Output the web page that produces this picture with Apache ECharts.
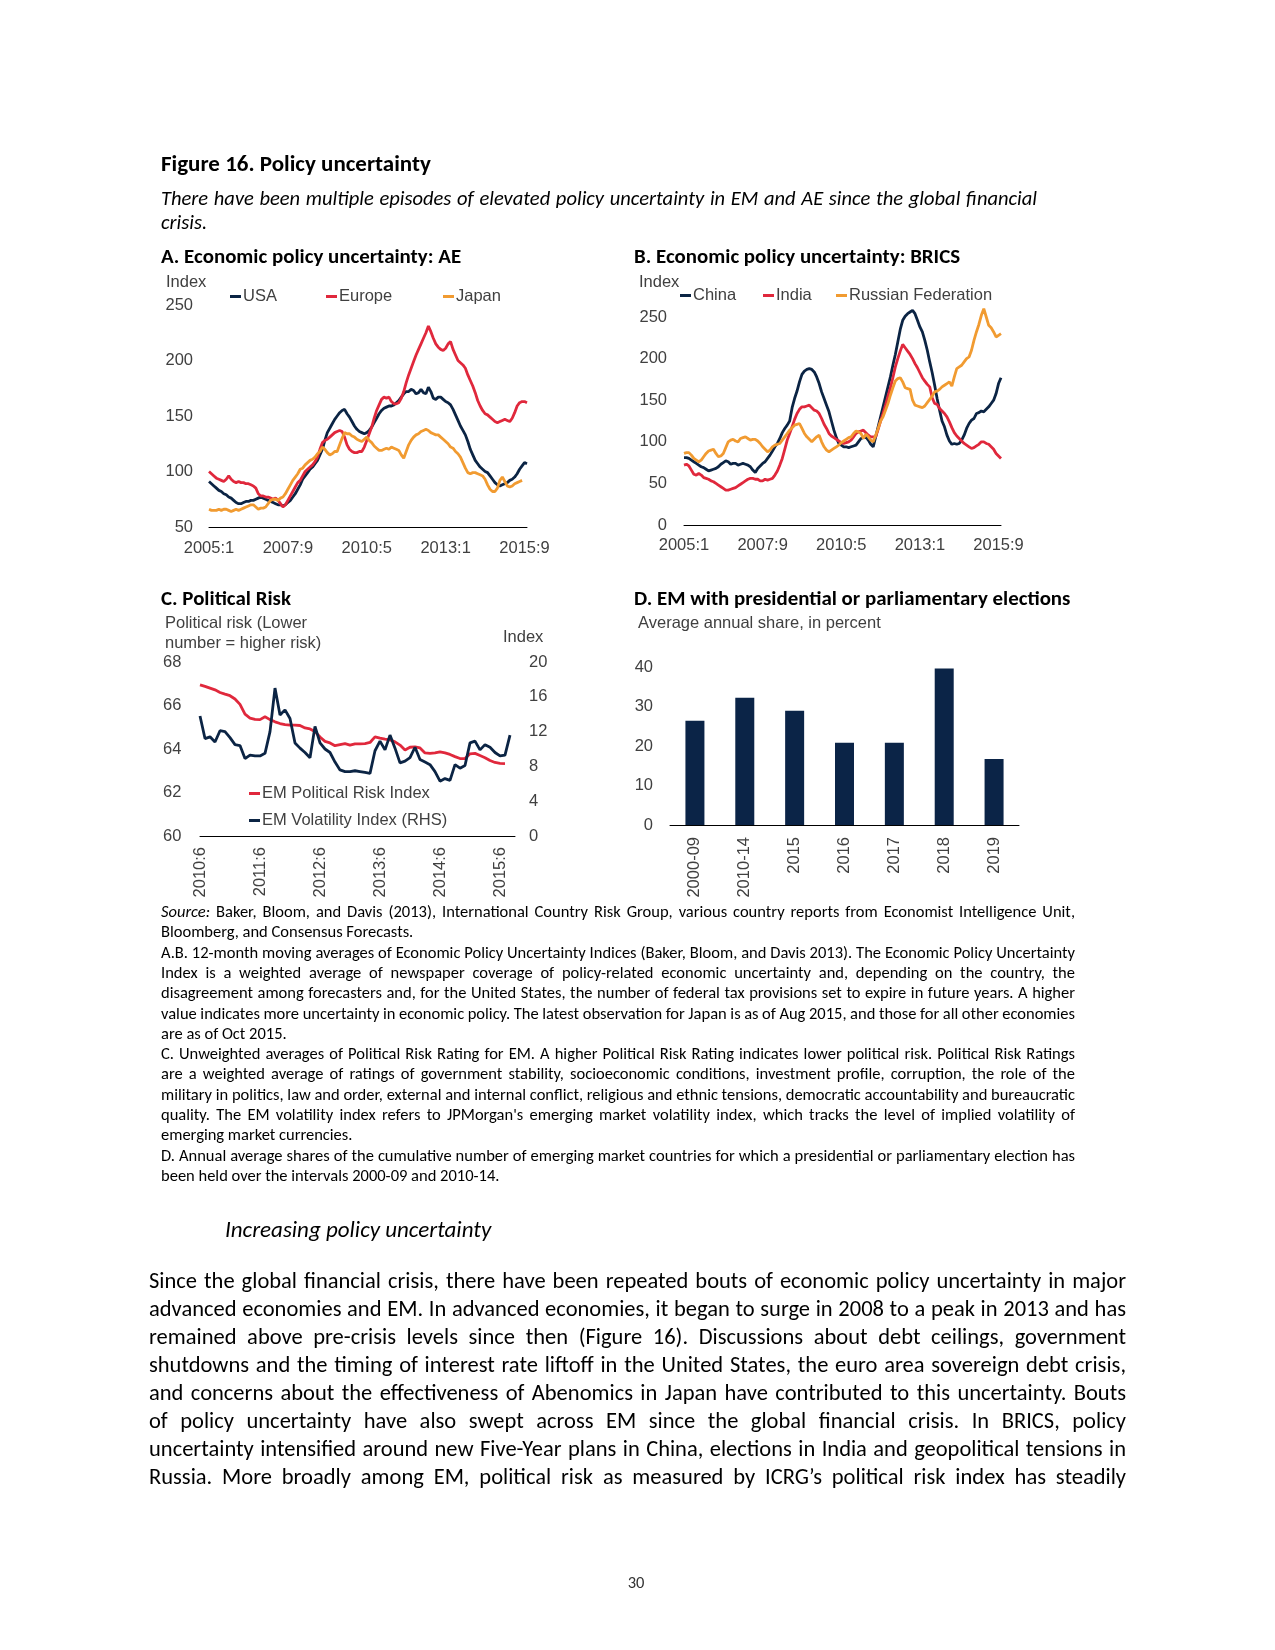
<!DOCTYPE html>
<html><head><meta charset="utf-8">
<script src="https://cdn.jsdelivr.net/npm/echarts@6/dist/echarts.min.js"></script>
<style>
html,body{margin:0;padding:0;background:#fff;}
#page{position:relative;width:1275px;height:1650px;overflow:hidden;background:#fff;}
#chart{position:absolute;left:0;top:0;width:1275px;height:1650px;}
.t{position:absolute;white-space:nowrap;color:#000;font-family:Carlito,"Liberation Sans Narrow","DejaVu Sans Condensed",sans-serif;z-index:2;}
</style></head>
<body><div id="page"><div id="chart"></div></div>
<script>
// ---------- DATA ----------
const aeSeriesNames = ['USA', 'Europe', 'Japan'];
const usa = [91,89,87,85,83,82,80,79,77,76, 74,72,71,71,72,73,73,74,74,75, 76,77,76,75,74,73,72,71,70,70,
 69,70,72,74,77,80,84,88,93,96, 99,102,104,107,110,115,120,128,135,139, 143,147,150,153,155,156,152,149,145,141,
 138,136,135,134,135,137,140,144,148,152, 155,157,158,159,159,160,162,164,167,170, 172,172,174,173,170,171,174,171,170,176,
 172,166,165,167,167,165,163,162,160,156, 151,146,141,137,133,127,120,115,110,107, 104,102,100,99,96,93,90,88,87,88,
 89,90,92,93,95,98,102,105,108,107];
const europe = [100,98,96,94,93,92,91,93,96,93, 91,90,91,90,90,89,89,88,87,85, 80,78,78,77,77,76,75,76,74,71,
 68,70,74,78,82,86,90,92,96,100, 102,104,106,109,113,120,126,128,129,131, 133,135,136,137,136,131,124,120,118,117,
 117,118,118,122,128,134,140,148,155,160, 165,167,166,167,163,161,161,162,166,172, 180,187,193,199,205,210,215,220,225,231,
 226,220,215,212,210,209,211,215,217,210, 205,200,198,196,193,187,182,177,171,164, 159,155,152,151,149,147,145,144,145,146,
 147,146,145,148,153,159,162,163,163,162];
const japan = [66,65,65,65,66,65,66,66,65,64, 65,66,65,66,67,68,69,70,70,68, 66,67,67,68,71,74,75,75,74,76,
 77,80,84,88,92,95,98,102,103,106, 108,110,111,113,116,118,122,120,117,115, 116,118,118,124,130,135,134,134,132,131,
 129,128,127,129,131,128,126,123,121,119, 119,120,121,120,122,121,120,119,115,112, 118,124,128,131,133,134,136,137,138,137,
 135,134,133,133,131,129,127,125,122,121, 118,116,113,108,103,99,98,99,99,98, 97,96,93,88,84,82,82,85,92,95,
 91,87,86,87,89,90,91,92];

const bricsSeriesNames = ['China', 'India', 'Russian Federation'];
const china = [81,81,80,78,76,74,72,70,69,67, 65,66,67,68,70,73,75,77,76,73, 74,74,72,73,74,73,72,70,66,63,
 68,71,74,76,80,84,89,94,98,104, 111,116,120,125,141,152,161,172,181,185, 187,188,187,184,178,170,160,152,144,136,
 125,114,105,98,96,94,94,93,94,95, 96,100,104,105,106,102,97,94,106,118, 130,142,154,166,178,192,205,220,235,246,
 251,254,256,258,254,246,238,232,222,210, 196,183,168,152,138,125,118,108,101,97, 98,97,98,102,108,116,122,126,128,134,
 135,137,136,139,142,146,150,158,170,177];
const india = [72,73,71,66,61,60,62,60,57,56, 55,53,52,50,48,46,44,42,42,43, 44,45,47,49,51,53,55,56,56,55,
 55,53,53,55,54,55,56,60,65,72, 80,91,102,110,118,127,134,139,142,142, 143,144,141,138,137,134,128,121,116,110,
 107,105,103,101,99,98,99,100,102,106, 110,112,113,114,111,108,106,106,106,115, 125,134,144,155,165,177,190,200,209,217,
 213,209,205,200,194,189,183,177,173,169, 166,153,146,145,140,137,134,130,124,117, 111,107,104,101,98,96,94,92,93,95,
 97,100,100,98,97,94,91,86,83,80];
const russia = [86,87,87,84,80,78,76,78,82,86, 89,90,91,86,82,83,86,93,100,102, 103,101,100,104,105,106,104,102,103,103,
 101,98,94,91,88,90,94,96,97,98, 102,106,110,114,117,120,121,122,116,110, 106,103,100,103,106,108,100,94,90,88,
 90,92,94,96,99,101,103,105,106,110, 113,112,110,104,109,106,102,100,108,116, 125,130,138,146,156,165,173,176,177,172,
 165,164,163,150,144,143,142,141,143,147, 151,155,160,161,163,166,168,170,172,167, 178,188,190,192,196,200,202,210,222,232,
 241,252,260,250,240,237,232,226,228,230];

const riskSeriesNames = ['EM Political Risk Index', 'EM Volatility Index (RHS)'];
const politicalRisk = [66.95,66.88,66.8,66.72,66.6,66.52,66.45,66.3,66.05,65.6, 65.42,65.36,65.35,65.48,65.35,65.25,65.17,65.12,65.1,65.1,
 65.08,64.97,64.92,64.8,64.55,64.35,64.28,64.15,64.2,64.25, 64.18,64.24,64.24,64.25,64.3,64.56,64.5,64.45,64.42,64.33,
 64.18,63.95,64.08,64.1,64.05,63.82,63.8,63.82,63.87,63.82, 63.75,63.65,63.56,63.56,63.78,63.8,63.7,63.6,63.47,63.38,
 63.34,63.33];
const volatility = [13.8,11.2,11.4,10.8,12.1,12.0,11.3,10.5,10.4,8.9, 9.3,9.2,9.2,9.5,12.0,17.0,13.9,14.5,13.5,10.7,
 10.1,9.6,9.0,12.6,10.7,10.0,9.6,8.5,7.6,7.4, 7.4,7.5,7.4,7.3,7.2,9.8,10.9,9.9,11.6,10.1,
 8.4,8.6,9.0,10.2,8.8,8.5,8.2,7.4,6.3,6.6, 6.4,8.2,7.8,8.1,10.7,10.9,9.9,10.5,10.2,9.6,
 9.2,9.3,11.6];

const electionCategories = ['2000-09', '2010-14', '2015', '2016', '2017', '2018', '2019'];
const electionShare = [26.4, 32.2, 28.9, 20.8, 20.8, 39.6, 16.7];

// tick/category labels (monthly, "year:month")
const monthsAB = [];
for (let y = 2005; y <= 2015; y++) for (let m = 1; m <= 12; m++) { if (y === 2015 && m > 10) break; monthsAB.push(y + ':' + m); }
const monthsC = [];
for (let y = 2010; y <= 2015; y++) for (let m = 1; m <= 12; m++) { if ((y === 2010 && m < 6) || (y === 2015 && m > 9)) continue; monthsC.push(y + ':' + m); }

// ---------- STYLE ----------
const NAVY = '#0b2444', RED = '#e0283c', ORANGE = '#f19b31', BAR = '#0b2447';
const TXT = '#404040', FS = 16.5, FF = '"Liberation Sans", Arial, sans-serif';

function lineSeries(name, data, xi, yi, color) {
  return { name, type: 'line', data, xAxisIndex: xi, yAxisIndex: yi, symbol: 'none', clip: false,
    lineStyle: { color, width: 2.8 }, itemStyle: { color } };
}
function legendAt(name, left, top) {
  return { data: [name], left, top, padding: 0, icon: 'rect', itemWidth: 11, itemHeight: 3, itemGap: 0,
    textStyle: { color: TXT, fontSize: FS, fontFamily: FF, padding: [0, 0, 0, -3] }, selectedMode: false };
}
const baseLabel = { color: TXT, fontSize: FS, fontFamily: FF };
const xLine = { show: true, lineStyle: { color: '#000', width: 1 } };

const chart = echarts.init(document.getElementById('chart'), null, { renderer: 'canvas' });
chart.setOption({
  animation: false,
  textStyle: { fontFamily: FF },
  grid: [
    { left: 209, top: 305, width: 318, height: 222 },
    { left: 684, top: 317, width: 317, height: 208 },
    { left: 200, top: 662, width: 315, height: 174 },
    { left: 670, top: 667, width: 349, height: 158 }
  ],
  xAxis: [
    { type: 'category', gridIndex: 0, data: monthsAB, boundaryGap: false, axisLine: xLine, axisTick: { show: false },
      axisLabel: Object.assign({ interval: 31, margin: 13 }, baseLabel) },
    { type: 'category', gridIndex: 1, data: monthsAB, boundaryGap: false, axisLine: xLine, axisTick: { show: false },
      axisLabel: Object.assign({ interval: 31, margin: 12 }, baseLabel) },
    { type: 'category', gridIndex: 2, data: monthsC, boundaryGap: false, axisLine: xLine, axisTick: { show: false },
      axisLabel: Object.assign({ interval: 11, margin: 11, rotate: 90 }, baseLabel) },
    { type: 'category', gridIndex: 3, data: electionCategories, boundaryGap: true, axisLine: xLine, axisTick: { show: false },
      axisLabel: Object.assign({ interval: 0, margin: 12, rotate: 90 }, baseLabel) }
  ],
  yAxis: [
    { type: 'value', gridIndex: 0, min: 50, max: 250, interval: 50, axisLine: { show: false }, axisTick: { show: false },
      splitLine: { show: false }, axisLabel: Object.assign({ margin: 16 }, baseLabel) },
    { type: 'value', gridIndex: 1, min: 0, max: 250, interval: 50, axisLine: { show: false }, axisTick: { show: false },
      splitLine: { show: false }, axisLabel: Object.assign({ margin: 17 }, baseLabel) },
    { type: 'value', gridIndex: 2, min: 60, max: 68, interval: 2, axisLine: { show: false }, axisTick: { show: false },
      splitLine: { show: false }, axisLabel: Object.assign({ margin: 37, align: 'left' }, baseLabel) },
    { type: 'value', gridIndex: 2, position: 'right', min: 0, max: 20, interval: 4, axisLine: { show: false }, axisTick: { show: false },
      splitLine: { show: false }, axisLabel: Object.assign({ margin: 14, align: 'left' }, baseLabel) },
    { type: 'value', gridIndex: 3, min: 0, max: 40, interval: 10, axisLine: { show: false }, axisTick: { show: false },
      splitLine: { show: false }, axisLabel: Object.assign({ margin: 17 }, baseLabel) }
  ],
  legend: [
    legendAt(aeSeriesNames[0], 230, 288), legendAt(aeSeriesNames[1], 326, 288), legendAt(aeSeriesNames[2], 443, 288),
    legendAt(bricsSeriesNames[0], 680, 287), legendAt(bricsSeriesNames[1], 763, 287), legendAt(bricsSeriesNames[2], 836, 287),
    legendAt(riskSeriesNames[0], 249, 785), legendAt(riskSeriesNames[1], 249, 812)
  ],
  graphic: [
    { type: 'text', x: 166, y: 282, style: { text: 'Index', fill: TXT, font: FS + 'px ' + FF, verticalAlign: 'middle' } },
    { type: 'text', x: 639, y: 282, style: { text: 'Index', fill: TXT, font: FS + 'px ' + FF, verticalAlign: 'middle' } },
    { type: 'text', x: 165, y: 623, style: { text: 'Political risk (Lower', fill: TXT, font: FS + 'px ' + FF, verticalAlign: 'middle' } },
    { type: 'text', x: 165, y: 643, style: { text: 'number = higher risk)', fill: TXT, font: FS + 'px ' + FF, verticalAlign: 'middle' } },
    { type: 'text', x: 503, y: 637, style: { text: 'Index', fill: TXT, font: FS + 'px ' + FF, verticalAlign: 'middle' } },
    { type: 'text', x: 638, y: 623, style: { text: 'Average annual share, in percent', fill: TXT, font: FS + 'px ' + FF, verticalAlign: 'middle' } }
  ],
  series: [
    lineSeries(aeSeriesNames[0], usa, 0, 0, NAVY),
    lineSeries(aeSeriesNames[1], europe, 0, 0, RED),
    lineSeries(aeSeriesNames[2], japan, 0, 0, ORANGE),
    lineSeries(bricsSeriesNames[0], china, 1, 1, NAVY),
    lineSeries(bricsSeriesNames[1], india, 1, 1, RED),
    lineSeries(bricsSeriesNames[2], russia, 1, 1, ORANGE),
    lineSeries(riskSeriesNames[0], politicalRisk, 2, 2, RED),
    lineSeries(riskSeriesNames[1], volatility, 2, 3, NAVY),
    { name: 'Share', type: 'bar', data: electionShare, xAxisIndex: 3, yAxisIndex: 4, barWidth: 19, itemStyle: { color: BAR } }
  ]
});

// ---------- PAGE TEXT ----------
const page = document.getElementById('page');
function addLine(html, o) {
  const d = document.createElement('div');
  d.className = 't';
  d.style.left = o.left + 'px';
  d.style.top = (o.cy - o.lh / 2) + 'px';
  d.style.lineHeight = o.lh + 'px';
  d.style.fontSize = o.size + 'px';
  if (o.weight) d.style.fontWeight = o.weight;
  if (o.italic) d.style.fontStyle = 'italic';
  if (o.color) d.style.color = o.color;
  d.innerHTML = html;
  page.appendChild(d);
  if (o.width) {
    const w = d.getBoundingClientRect().width;
    const n = (d.textContent.match(/ /g) || []).length;
    if (n > 0) d.style.wordSpacing = ((o.width - w) / n) + 'px';
  }
  if (o.center) {
    const w = d.getBoundingClientRect().width;
    d.style.left = (o.center - w / 2) + 'px';
  }
  return d;
}
addLine('Figure 16. Policy uncertainty', { left: 161, cy: 163, lh: 28, size: 23, weight: 'bold' });
addLine('There have been multiple episodes of elevated policy uncertainty in EM and AE since the global financial', { left: 161, cy: 198, lh: 24, size: 20.5, italic: true, width: 876 });
addLine('crisis.', { left: 161, cy: 222, lh: 24, size: 20.5, italic: true });
addLine('A. Economic policy uncertainty: AE', { left: 161, cy: 256, lh: 24, size: 20.9, weight: 'bold' });
addLine('B. Economic policy uncertainty: BRICS', { left: 634, cy: 256, lh: 24, size: 20.9, weight: 'bold' });
addLine('C. Political Risk', { left: 161, cy: 598, lh: 24, size: 20.9, weight: 'bold' });
addLine('D. EM with presidential or parliamentary elections', { left: 634, cy: 598, lh: 24, size: 20.9, weight: 'bold' });

const notes = [
  ['<i>Source:</i> Baker, Bloom, and Davis (2013), International Country Risk Group, various country reports from Economist Intelligence Unit,', 1],
  ['Bloomberg, and Consensus Forecasts.', 0],
  ['A.B. 12-month moving averages of Economic Policy Uncertainty Indices (Baker, Bloom, and Davis 2013). The Economic Policy Uncertainty', 1],
  ['Index is a weighted average of newspaper coverage of policy-related economic uncertainty and, depending on the country, the', 1],
  ['disagreement among forecasters and, for the United States, the number of federal tax provisions set to expire in future years. A higher', 1],
  ['value indicates more uncertainty in economic policy. The latest observation for Japan is as of Aug 2015, and those for all other economies', 1],
  ['are as of Oct 2015.', 0],
  ['C. Unweighted averages of Political Risk Rating for EM. A higher Political Risk Rating indicates lower political risk. Political Risk Ratings', 1],
  ['are a weighted average of ratings of government stability, socioeconomic conditions, investment profile, corruption, the role of the', 1],
  ['military in politics, law and order, external and internal conflict, religious and ethnic tensions, democratic accountability and bureaucratic', 1],
  ['quality. The EM volatility index refers to JPMorgan\'s emerging market volatility index, which tracks the level of implied volatility of', 1],
  ['emerging market currencies.', 0],
  ['D. Annual average shares of the cumulative number of emerging market countries for which a presidential or parliamentary election has', 1],
  ['been held over the intervals 2000-09 and 2010-14.', 0]
];
notes.forEach((n, i) => addLine(n[0], { left: 161, cy: 911 + i * 20.3, lh: 20, size: 16.5, width: n[1] ? 914 : 0 }));

addLine('Increasing policy uncertainty', { left: 225, cy: 1229, lh: 28, size: 23, italic: true });
const body = [
  'Since the global financial crisis, there have been repeated bouts of economic policy uncertainty in major',
  'advanced economies and EM. In advanced economies, it began to surge in 2008 to a peak in 2013 and has',
  'remained above pre-crisis levels since then (Figure 16). Discussions about debt ceilings, government',
  'shutdowns and the timing of interest rate liftoff in the United States, the euro area sovereign debt crisis,',
  'and concerns about the effectiveness of Abenomics in Japan have contributed to this uncertainty. Bouts',
  'of policy uncertainty have also swept across EM since the global financial crisis. In BRICS, policy',
  'uncertainty intensified around new Five-Year plans in China, elections in India and geopolitical tensions in',
  'Russia. More broadly among EM, political risk as measured by ICRG\u2019s political risk index has steadily'
];
body.forEach((t, i) => addLine(t, { left: 149, cy: 1281 + i * 28, lh: 28, size: 22.5, width: 977 }));
addLine('30', { left: 628, cy: 1582, lh: 18, size: 16.5, color: '#333', center: 636 });
</script>
</body></html>
